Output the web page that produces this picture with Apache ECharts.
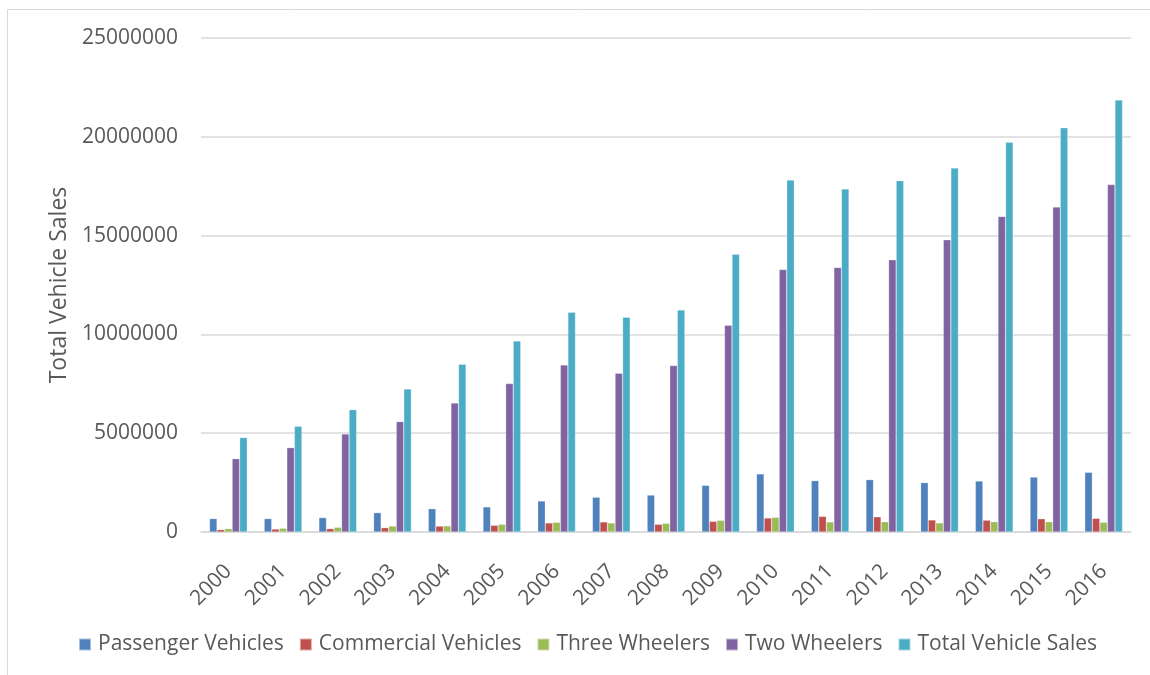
<!DOCTYPE html>
<html>
<head>
<meta charset="utf-8">
<script src="https://cdn.jsdelivr.net/npm/echarts@6/dist/echarts.min.js"></script>
<style>
html,body{margin:0;padding:0;background:#fff;}
#c{width:1150px;height:675px;}
</style>
</head>
<body>
<div id="c"></div>
<script>
const years = ['2000','2001','2002','2003','2004','2005','2006','2007','2008','2009','2010','2011','2012','2013','2014','2015','2016'];
const passengerVehicles = [680000, 680000, 730000, 980000, 1180000, 1270000, 1570000, 1760000, 1870000, 2360000, 2940000, 2600000, 2650000, 2500000, 2580000, 2780000, 3020000];
const commercialVehicles = [120000, 150000, 170000, 220000, 300000, 340000, 460000, 510000, 390000, 540000, 710000, 790000, 770000, 610000, 600000, 670000, 690000];
const threeWheelers = [170000, 190000, 240000, 300000, 310000, 390000, 490000, 460000, 440000, 590000, 740000, 510000, 520000, 460000, 520000, 520000, 490000];
const twoWheelers = [3710000, 4270000, 4960000, 5590000, 6530000, 7510000, 8450000, 8030000, 8420000, 10460000, 13280000, 13390000, 13780000, 14790000, 15970000, 16450000, 17580000];
const totalSales = [4780000, 5350000, 6190000, 7240000, 8490000, 9670000, 11120000, 10870000, 11240000, 14050000, 17810000, 17360000, 17780000, 18420000, 19720000, 20460000, 21860000];
const seriesNames = ['Passenger Vehicles','Commercial Vehicles','Three Wheelers','Two Wheelers','Total Vehicle Sales'];
const seriesData = [passengerVehicles, commercialVehicles, threeWheelers, twoWheelers, totalSales];
const colors = ['#4F81BD','#C0504D','#9BBB59','#8064A2','#4BACC6'];

const FONT = 'Open Sans';
const TXT = '#595959';
const chart = echarts.init(document.getElementById('c'), null, {renderer:'canvas'});
chart.setOption({
  animation: false,
  color: colors,
  textStyle: {fontFamily: FONT, color: TXT},
  graphic: [{
    type: 'rect', shape: {x: 7.5, y: 9.5, width: 1200, height: 700},
    style: {fill: 'none', stroke: '#d9d9d9', lineWidth: 1}, silent: true, z: -10
  }],
  grid: {left: 201, right: 19, top: 38, bottom: 143, containLabel: false},
  legend: {
    data: seriesNames,
    left: 73, top: 629,
    itemWidth: 12, itemHeight: 12, itemGap: 15,
    icon: 'rect',
    textStyle: {fontFamily: FONT, fontSize: 21, color: TXT, padding: [0,0,0,2]}
  },
  xAxis: {
    type: 'category',
    data: years,
    axisLine: {show: true, lineStyle: {color: '#d9d9d9', width: 1.5}},
    axisTick: {show: false},
    axisLabel: {rotate: 45, fontFamily: FONT, fontSize: 21, color: TXT, margin: 36, interval: 0}
  },
  yAxis: {
    type: 'value',
    min: 0, max: 25000000, interval: 5000000,
    name: 'Total Vehicle Sales',
    nameLocation: 'middle',
    nameGap: 118,
    nameRotate: 90,
    nameTextStyle: {fontFamily: FONT, fontSize: 23, color: TXT},
    axisLine: {show: false},
    axisTick: {show: false},
    axisLabel: {fontFamily: FONT, fontSize: 21, color: TXT, margin: 23, formatter: v => String(v)},
    splitLine: {lineStyle: {color: '#d9d9d9', width: 1.5}}
  },
  series: seriesData.map((d, i) => ({
    name: seriesNames[i],
    type: 'bar',
    data: d,
    barGap: '0%',
    barCategoryGap: '31%',
    itemStyle: {color: colors[i], borderColor: 'rgba(255,255,255,0.5)', borderWidth: 0.5}
  }))
});
</script>
</body>
</html>
